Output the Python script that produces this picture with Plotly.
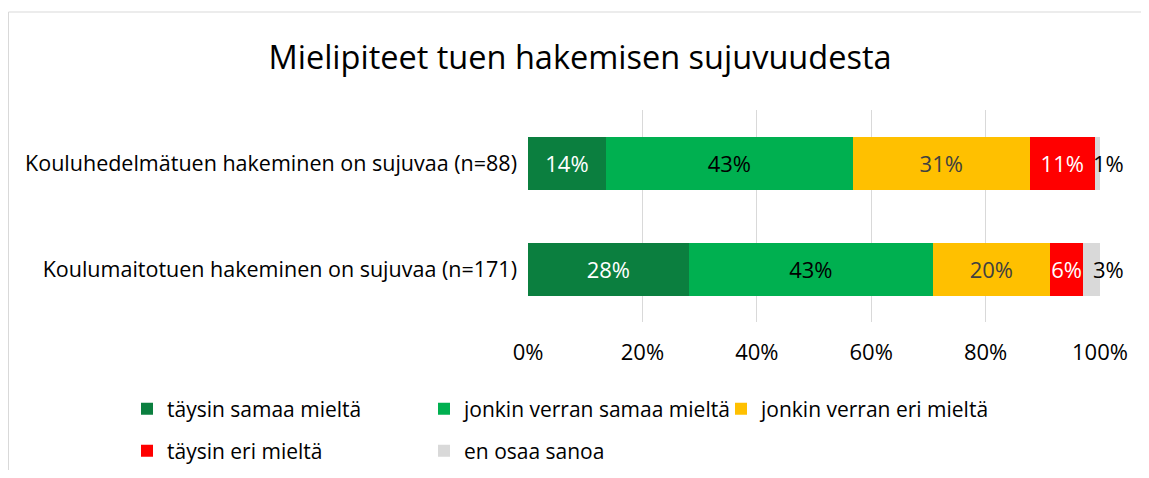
import plotly.graph_objects as go

title = "Mielipiteet tuen hakemisen sujuvuudesta"
categories = [
    "Kouluhedelmätuen hakeminen on sujuvaa (n=88)",
    "Koulumaitotuen hakeminen on sujuvaa (n=171)",
]
series_names = [
    "täysin samaa mieltä",
    "jonkin verran samaa mieltä",
    "jonkin verran eri mieltä",
    "täysin eri mieltä",
    "en osaa sanoa",
]
# shares (%) per category
taysin_samaa = [13.6, 28.1]
jonkin_samaa = [43.2, 42.7]
jonkin_eri = [30.9, 20.4]
taysin_eri = [11.4, 5.9]
en_osaa = [0.9, 2.9]
# labels as printed on the bars
labels = [
    ["14%", "28%"],
    ["43%", "43%"],
    ["31%", "20%"],
    ["11%", "6%"],
    ["1%", "3%"],
]

colors = ["#0B7F3F", "#00B050", "#FFC000", "#FF0000", "#D9D9D9"]
text_colors = ["#FFFFFF", "#000000", "#404040", "#FFFFFF", "#000000"]
font = "Open Sans, Calibri, sans-serif"

values = [taysin_samaa, jonkin_samaa, jonkin_eri, taysin_eri, en_osaa]

# page body has an 8px margin: keep the figure inside the window
W, H = 1133, 462
L, R, T, B = 520, 41, 102, 148
PW, PH = W - L - R, H - T - B

fig = go.Figure()
for i, name in enumerate(series_names):
    last = i == len(series_names) - 1
    fig.add_trace(go.Bar(
        y=categories, x=values[i], name=name, orientation="h",
        marker=dict(color=colors[i], line=dict(width=0)),
        text=None if last else labels[i],
        textposition="inside", textangle=0,
        insidetextanchor="middle",
        textfont=dict(color=text_colors[i], size=22, family=font),
        constraintext="none",
        hoverinfo="skip",
        legend="legend" if i < 3 else "legend2",
    ))

# the small "en osaa sanoa" shares are printed just past the bar end
for j, cat in enumerate(categories):
    total = sum(v[j] for v in values)
    fig.add_annotation(x=total, y=cat, xref="x", yref="y", text=labels[4][j],
                       showarrow=False, xanchor="left", xshift=-9,
                       font=dict(size=22, family=font, color="#000000"))

legend_common = dict(orientation="h", xref="paper", yref="paper",
                     x=(119 - L) / PW, xanchor="left", yanchor="middle",
                     traceorder="normal", entrywidth=252,
                     font=dict(size=21, family=font))

# chart frame: only the top and left edges fall inside the picture
frame = dict(color="#D9D9D9", width=1)
x_left = (0.5 - L) / PW
y_top = (T + PH - 4) / PH

fig.update_layout(
    width=W, height=H,
    barmode="stack", bargap=0.5,
    title=dict(text=title, x=(580 - 8) / W, xref="container", xanchor="center",
               y=1 - 50 / H, yanchor="middle",
               font=dict(size=32.5, family=font, color="#000000")),
    margin=dict(l=L, r=R, t=T, b=B, autoexpand=False),
    paper_bgcolor="white", plot_bgcolor="white",
    font=dict(family=font, size=20, color="#000000"),
    legend=dict(legend_common, y=(T + PH - 401) / PH),
    legend2=dict(legend_common, y=(T + PH - 443) / PH),
    shapes=[
        dict(type="line", xref="paper", yref="paper", x0=x_left, x1=(W + 20 - L) / PW,
             y0=y_top, y1=y_top, line=frame, layer="below"),
        dict(type="line", xref="paper", yref="paper", x0=x_left, x1=x_left,
             y0=y_top, y1=(T + PH - H - 20) / PH, line=frame, layer="below"),
    ],
)
fig.update_xaxes(range=[0, 100], tickvals=[0, 20, 40, 60, 80, 100],
                 ticktext=["0%", "20%", "40%", "60%", "80%", "100%"],
                 showgrid=True, gridcolor="#D9D9D9", gridwidth=1,
                 zeroline=False, showline=False, ticks="",
                 ticklabelstandoff=15, tickfont=dict(size=22))
fig.update_yaxes(autorange="reversed", showgrid=False, showline=False,
                 ticks="", ticklabelstandoff=10, tickfont=dict(size=21.5))

fig.write_html("out.html")
